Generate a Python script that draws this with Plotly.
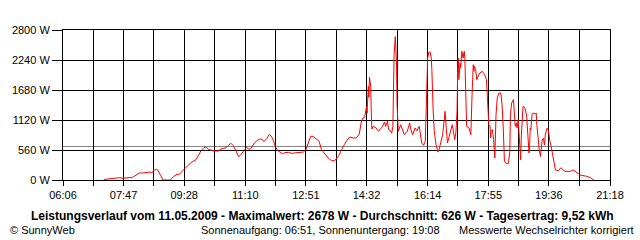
import plotly.graph_objects as go

# time in minutes since midnight, power in W
minutes = [434,441,457,460,466,474,477,482,485,490,493,499,507,511,514,518,522,524,529,533,545,550,556,560,568,573,579,584,587,593,596,601,604,608,618,626,628,634,638,642,646,650,653,656,659,663,667,672,676,679,684,689,694,698,701,706,710,713,717,720,724,728,732,736,742,747,767,771,775,779,783,789,793,797,803,808,814,819,825,829,835,839,844,850,855,860,863,866,869,872,873,875,876,877,879,880,881,883,886,888,892,896,899,902,904,907,909,912,914,916,917,918,920,921,922,923,924,925,929,931,935,940,944,946,949,953,956,960,962,964,967,970,971,972,974,976,978,980,981,983,985,988,991,993,996,999,1002,1003,1005,1007,1010,1013,1015,1017,1019,1021,1023,1024,1025,1026,1028,1029,1031,1033,1035,1036,1038,1039,1043,1046,1048,1049,1050,1051,1052,1054,1056,1058,1061,1065,1067,1069,1072,1074,1075,1076,1078,1079,1080,1082,1083,1084,1086,1087,1088,1090,1093,1096,1097,1098,1100,1101,1102,1104,1108,1109,1111,1112,1114,1117,1118,1119,1120,1122,1123,1125,1127,1128,1129,1130,1132,1133,1136,1137,1139,1141,1143,1144,1145,1146,1148,1150,1154,1155,1156,1158,1160,1162,1165,1167,1169,1170,1173,1175,1176,1178,1180,1182,1185,1187,1192,1196,1200,1203,1212,1217,1223,1228,1239,1245,1251]
power_w = [10,20,32,43,32,43,37,50,69,112,131,131,144,149,131,187,200,187,80,0,0,62,106,106,200,261,323,355,368,480,547,603,616,573,541,541,573,592,603,648,685,640,573,480,435,480,547,610,573,584,672,734,765,760,715,778,853,821,734,622,547,510,491,510,517,498,523,566,691,816,816,752,722,566,485,411,360,360,442,536,659,734,803,784,784,859,1064,1157,1170,1376,1251,1749,1544,1917,1749,1251,952,1002,984,971,909,971,1002,1083,1002,1096,939,920,872,1002,1562,2339,2678,2414,2216,1406,1032,909,1032,971,846,909,1064,939,846,971,920,1002,846,691,648,722,1096,1592,2277,2389,2389,2277,2059,1344,909,659,523,566,691,846,1157,1282,971,691,816,971,1032,909,752,877,1282,2029,2277,1872,2184,2091,2402,2277,2402,2277,1592,1002,971,846,1592,1779,2152,2029,2122,2059,1872,1936,1997,2029,1997,1966,1872,1376,1032,1032,1002,784,909,939,846,752,411,971,1219,1531,1624,1624,1531,1406,971,597,349,317,299,349,536,1219,1437,1499,1251,1032,1002,1064,971,1126,752,536,379,784,1344,1376,1344,1312,1189,722,504,659,971,939,1219,1251,1232,1251,1032,722,566,439,747,778,653,840,965,933,840,715,622,498,248,187,174,230,187,162,162,187,136,93,69,47,0]

average_w = 626
x_tick_labels = ["06:06","07:47","09:28","11:10","12:51","14:32","16:14","17:55","19:36","21:18"]
y_tick_values = [0, 560, 1120, 1680, 2240, 2800]

title_text = "Leistungsverlauf vom 11.05.2009 - Maximalwert: 2678 W - Durchschnitt: 626 W - Tagesertrag: 9,52 kWh"
footer_left = "© SunnyWeb"
footer_mid = "Sonnenaufgang: 06:51, Sonnenuntergang: 19:08"
footer_right = "Messwerte Wechselrichter korrigiert"

def to_min(s):
    h, m = s.split(":")
    return int(h) * 60 + int(m)

label_mins = [to_min(s) for s in x_tick_labels]
tickvals, ticktext = [], []
for i, v in enumerate(label_mins):
    tickvals.append(v)
    ticktext.append(x_tick_labels[i])
    if i < len(label_mins) - 1:
        tickvals.append((v + label_mins[i + 1]) / 2)
        ticktext.append("")

FONT = "Liberation Sans"
fig = go.Figure()
fig.add_trace(go.Scatter(x=minutes, y=power_w, mode="lines",
                         line=dict(color="#ff0000", width=1), hoverinfo="skip"))
fig.add_shape(type="line", xref="paper", x0=0, x1=1, yref="y", y0=average_w, y1=average_w,
              line=dict(color="#808080", width=1), layer="below")

fig.update_layout(
    width=640, height=240, margin=dict(l=60, r=30, t=30, b=60),
    paper_bgcolor="white", plot_bgcolor="white", showlegend=False,
    font=dict(family=FONT, size=11, color="black"),
    xaxis=dict(range=[label_mins[0], label_mins[-1]], tickvals=tickvals, ticktext=ticktext,
               showgrid=True, gridcolor="black", gridwidth=1, zeroline=False,
               showline=True, linecolor="black", linewidth=1, mirror=True,
               ticks="outside", ticklen=5, tickcolor="black", tickfont=dict(size=11)),
    yaxis=dict(range=[0, 2800], tickvals=y_tick_values,
               ticktext=[f"{v} W" for v in y_tick_values],
               showgrid=True, gridcolor="black", gridwidth=1, zeroline=False,
               showline=True, linecolor="black", linewidth=1, mirror=True,
               ticks="outside", ticklen=10, tickcolor="black", tickfont=dict(size=11)),
)

def px_x(p):
    return (p - 60) / 550
def px_y(p):
    return (180 - p) / 150

fig.add_annotation(text="<b>" + title_text + "</b>", xref="paper", yref="paper",
                   x=px_x(321), y=px_y(216), xanchor="center", yanchor="middle",
                   showarrow=False, font=dict(size=12, family=FONT))
fig.add_annotation(text=footer_left, xref="paper", yref="paper",
                   x=px_x(5), y=px_y(230), xanchor="left", yanchor="middle",
                   showarrow=False, font=dict(size=11, family=FONT))
fig.add_annotation(text=footer_mid, xref="paper", yref="paper",
                   x=px_x(319), y=px_y(230), xanchor="center", yanchor="middle",
                   showarrow=False, font=dict(size=11, family=FONT))
fig.add_annotation(text=footer_right, xref="paper", yref="paper",
                   x=px_x(636), y=px_y(230), xanchor="right", yanchor="middle",
                   showarrow=False, font=dict(size=11, family=FONT))

fig.write_html("out.html")
